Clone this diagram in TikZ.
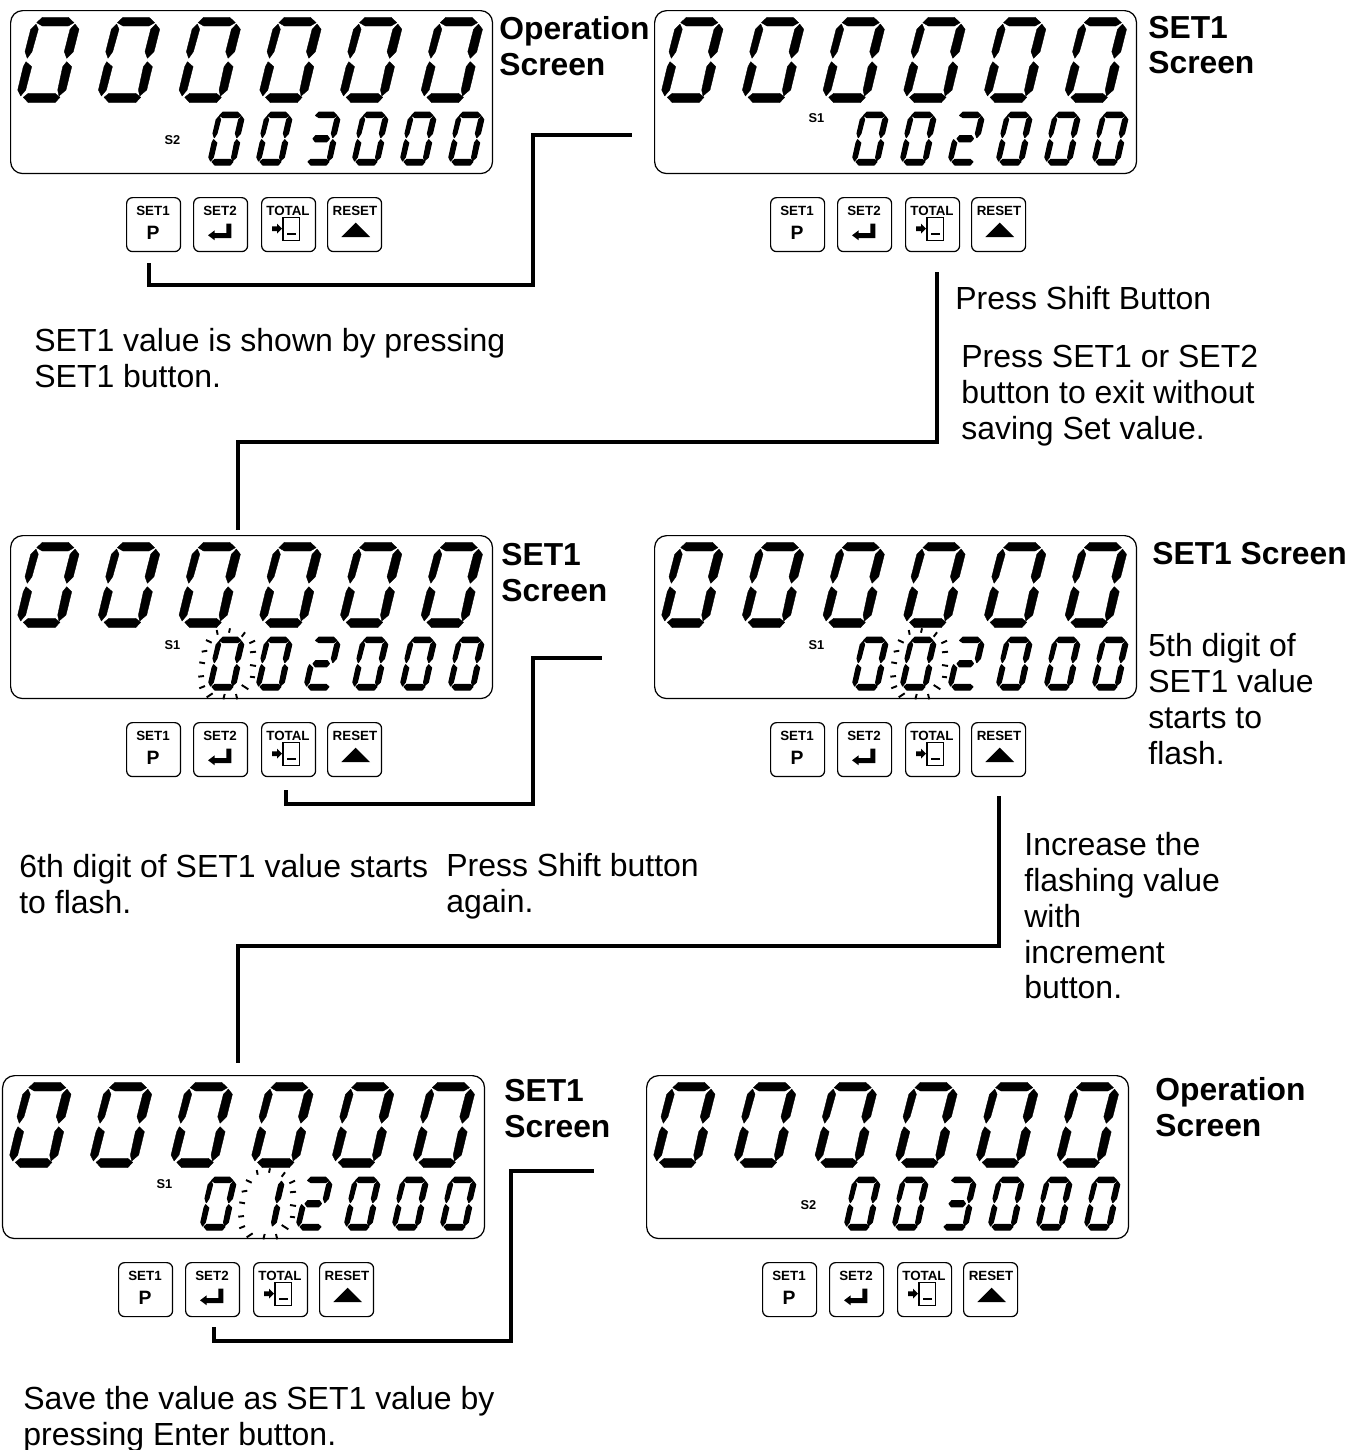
\documentclass[tikz,border=0pt]{standalone}
\usepackage{fontspec}
\setmainfont{Liberation Sans}

% segments of one display digit, in pixels of the big digit
\newcommand{\lcdsegT}{(18.7,5.7) -- (24.3,0.3) -- (50.3,0.3) -- (56,5.7) -- (50.3,9) -- (24.3,9) -- cycle}
\newcommand{\lcdsegUR}{(57,7) -- (61,12.3) -- (55.3,34.7) -- (48.7,41.3) -- (46.3,34.7) -- (52,12.3) -- cycle}
\newcommand{\lcdsegUL}{(18,7) -- (20.3,12.3) -- (14,34.7) -- (9.3,41.3) -- (7,34.7) -- (12.7,12.3) -- cycle}
\newcommand{\lcdsegM}{(14,43) -- (19,38) -- (39,38) -- (43,43) -- (38,48) -- (18,48) -- cycle}
\newcommand{\lcdsegLL}{(8,44.7) -- (13.7,49.7) -- (7.7,73) -- (2.7,79) -- (-0.3,73) -- (5.3,49.7) -- cycle}
\newcommand{\lcdsegLR}{(48.7,44.7) -- (53.7,49.7) -- (48,73) -- (41,79) -- (39.7,73) -- (44.7,49.7) -- cycle}
\newcommand{\lcdsegB}{(5.3,80.3) -- (10.3,76.3) -- (37,76.3) -- (42,80.3) -- (37,85.7) -- (10.3,85.7) -- cycle}

\expandafter\def\csname digit0\endcsname{T,UR,UL,LL,LR,B}
\expandafter\def\csname digit1\endcsname{UR,LR}
\expandafter\def\csname digit2\endcsname{T,UR,M,LL,B}
\expandafter\def\csname digit3\endcsname{T,UR,M,LR,B}

\newcommand{\lcdDigit}[1]{%
    \edef\seglist{\csname digit#1\endcsname}%
    \foreach \segname in \seglist {\expandafter\filldraw\csname lcdseg\segname\endcsname;}%
}

% name, left, top, small digits, S label, height of S label
\newcommand{\lcdScreen}[6]{%
\begin{scope}[shift={(#2,#3)}]
    \node[lcdpanel] (#1) at (0,0) {};
    \foreach \i in {0,...,5} {\begin{scope}[shift={(8+80.7*\i,7)},line width=0.2pt,line join=round]\lcdDigit{0}\end{scope}}
    \foreach \d [count=\i from 0] in {#4} {\begin{scope}[shift={(199+48*\i,102)},xscale=0.57,yscale=0.62,line width=0.6pt,line join=round]\lcdDigit{\d}\end{scope}}
    \node[slabel] (#1-s) at (162.5,#6) {#5};
    % Buttons
    \node[keybox] (#1-set1) at (116,187) {};
    \node[keybox] (#1-set2) at (183,187) {};
    \node[keybox] (#1-total) at (251,187) {};
    \node[keybox] (#1-reset) at (317,187) {};
    \node[keytext] at (143,200.5) {SET1};
    \node[keytext] at (210,200.5) {SET2};
    \node[keytext] at (278,200.5) {TOTAL};
    \node[keytext] at (345,200.5) {RESET};
    \node[keytext, font=\bfseries\fontsize{11}{11}\selectfont] at (143,223) {P};
    \begin{scope}[shift={(183,187)}]
        \fill (15,38.3) -- (21.7,33.3) -- (21.7,36) -- (33.3,36) -- (33.3,26.7) -- (38.3,26.7) -- (38.3,41) -- (21.7,41) -- (21.7,43.3) -- cycle;
    \end{scope}
    \begin{scope}[shift={(251,187)}]
        \draw[line width=0.8pt] (22,20.7) rectangle (38.7,43.3);
        \fill (26,36) rectangle (34.7,38.3);
        \fill (11,29.3) -- (16,29.3) -- (16,26.7) -- (21,31.7) -- (16,36.7) -- (16,34) -- (11,34) -- cycle;
    \end{scope}
    \begin{scope}[shift={(317,187)}]
        \fill (14.3,40) -- (28.7,25.7) -- (43,40) -- cycle;
    \end{scope}
\end{scope}}

% rays round a flashing small digit
\newcommand{\lcdRays}[2]{%
\begin{scope}[shift={(#1,#2)}]
    \foreach \a/\b/\c/\d in {7.7/-7/8.7/-2.3, 21/-8.7/20/-4.3, 36/-4.7/32.7/-0.3, -3/3/2.7/5.7,
        -7.3/14.7/-1.7/13.7, -9.7/25.3/-4/26.3, -10.7/39.7/-5/39, -9.7/51.3/-4/49, -2.3/60.3/3.7/56.3,
        14.3/62.3/15.7/57, 28.3/62.3/27/57, 32.7/48/39.3/52.3, 41/39.7/46/40.3, 41/28/47/29,
        41/15.3/47/14.7, 40.3/6.3/46/3.7}
        \draw[flashray] (\a,\b) -- (\c,\d);
\end{scope}}

\tikzset{
    lcdpanel/.style={draw, rounded corners=0.24cm, anchor=north west, minimum width=9.64cm, minimum height=3.26cm, line width=0.7pt},
    slabel/.style={font=\bfseries\fontsize{7.3}{8}\selectfont, inner sep=0},
    keybox/.style={draw, rounded corners=0.12cm, anchor=north west, minimum width=1.08cm, minimum height=1.08cm, line width=0.7pt},
    keytext/.style={font=\bfseries\fontsize{7.6}{8}\selectfont, inner sep=0},
    flashray/.style={line width=1.1pt},
    caption/.style={font=\fontsize{18.2}{20.4}\selectfont, align=left, anchor=north west, inner sep=0},
    title/.style={caption, font=\bfseries\fontsize{18.1}{20.4}\selectfont},
    flowline/.style={line width=2pt, line join=miter},
}

\begin{document}
\begin{tikzpicture}[x=0.02cm, y=-0.02cm]
    \useasboundingbox (0,0) rectangle (1352,1450);

    % Screens
    \lcdScreen{opscreen}{10}{10}{0,0,3,0,0,0}{S2}{130}
    \lcdScreen{setscreen}{654}{10}{0,0,2,0,0,0}{S1}{108}
    \lcdScreen{sixthscreen}{10}{535}{0,0,2,0,0,0}{S1}{110}
    \lcdRays{209}{637}
    \lcdScreen{fifthscreen}{654}{535}{0,0,2,0,0,0}{S1}{110}
    \lcdRays{901}{637}
    \lcdScreen{incscreen}{2}{1075}{0,1,2,0,0,0}{S1}{109}
    \lcdRays{249}{1177}
    \lcdScreen{endscreen}{646}{1075}{0,0,3,0,0,0}{S2}{130}

    % Titles
    \node[title] (optitle) at (499,16) {Operation\\Screen};
    \node[title] (settitle) at (1148,15.5) {SET1\\Screen};
    \node[title] (sixthtitle) at (501,543) {SET1\\Screen};
    \node[title] (fifthtitle) at (1152,542) {SET1 Screen};
    \node[title] (inctitle) at (504,1079) {SET1\\Screen};
    \node[title] (endtitle) at (1155,1077) {Operation\\Screen};

    % Notes
    \node[caption] (noteone) at (34,328) {SET1 value is shown by pressing\\SET1 button.};
    \node[caption] (notetwo) at (955,286) {Press Shift Button};
    \node[caption] (notethree) at (961,345) {Press SET1 or SET2\\button to exit without\\saving Set value.};
    \node[caption] (notefour) at (1148,633) {5th digit of\\SET1 value\\starts to\\flash.};
    \node[caption] (notefive) at (19,854) {6th digit of SET1 value starts\\to flash.};
    \node[caption] (notesix) at (446,853) {Press Shift button\\again.};
    \node[caption] (noteseven) at (1024,832) {Increase the\\flashing value\\with\\increment\\button.};
    \node[caption] (noteeight) at (23,1386) {Save the value as SET1 value by\\pressing Enter button.};

    % Connector ends
    \coordinate (linea) at (149,263);
    \coordinate (lineb) at (632,135);
    \coordinate (linec) at (937,272);
    \coordinate (lined) at (238,530);
    \coordinate (linee) at (286,790);
    \coordinate (linef) at (602,658);
    \coordinate (lineg) at (999,796);
    \coordinate (lineh) at (238,1063);
    \coordinate (linei) at (214,1327);
    \coordinate (linej) at (594,1171);

    % Connectors
    \draw[flowline] (linea) |- (533,285) |- (lineb);
    \draw[flowline] (linec) |- (238,442) -- (lined);
    \draw[flowline] (linee) |- (533,804) |- (linef);
    \draw[flowline] (lineg) |- (238,946) -- (lineh);
    \draw[flowline] (linei) |- (511,1341) |- (linej);
\end{tikzpicture}
\end{document}
